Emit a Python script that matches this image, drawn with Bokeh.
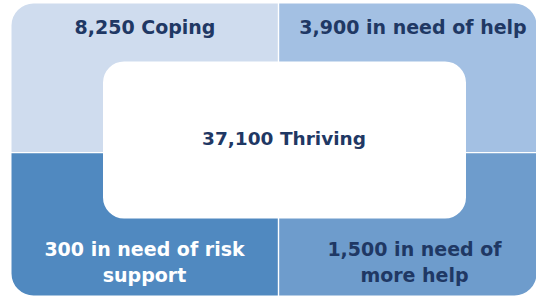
import textwrap
from bokeh.plotting import figure
from bokeh.models import Range1d, ColumnDataSource
from bokeh.core.properties import value
from bokeh.embed import file_html
from bokeh.resources import INLINE

# ---- data ----
groups = ["Coping", "in need of help", "Thriving", "in need of risk support", "in need of more help"]
counts = [8250, 3900, 37100, 300, 1500]

# ---- layout (positions in reference-pixel coordinates, y measured from top) ----
label_cx = [144.5, 412.5, 283.5, 144.0, 414.0]
label_base = [26, 26, 138, 248, 248]
label_wrap = [40, 40, 40, 19, 19]
label_color = ["#1F3864", "#1F3864", "#1F3864", "#FFFFFF", "#1F3864"]
label_size = ["19px", "19px", "18.5px", "19px", "19px"]
line_step = 26

p = figure(width=536, height=296, output_backend="svg", toolbar_location=None,
           x_range=Range1d(0, 536), y_range=Range1d(-296, 0),
           min_border=0, outline_line_color=None,
           background_fill_color="white", border_fill_color="white")
p.axis.visible = False
p.grid.visible = False

R = 22
# quadrants: (left, right, top, bottom, color, radius)
quads = [
    (11, 277.3, 3, 151.6, "#CFDCEE", (R, 0, 0, 0)),
    (278.7, 536, 3, 151.6, "#A3C0E3", (0, R, 0, 0)),
    (11, 277.3, 152.8, 295, "#5089C0", (0, 0, 0, R)),
    (278.7, 536, 152.8, 295, "#6E9CCC", (0, 0, R, 0)),
]
for l, r, t, b, c, rad in quads:
    p.quad(left=[l], right=[r], top=[-t], bottom=[-b], fill_color=c,
           line_color=None, border_radius=rad)

# central white box
p.quad(left=[102.5], right=[465.5], top=[-61], bottom=[-218], fill_color="white",
       line_color=None, border_radius=21)

xs, ys, txt, cols, sizes = [], [], [], [], []
for i in range(len(groups)):
    lines = textwrap.wrap(f"{counts[i]:,} {groups[i]}", label_wrap[i])
    for j, ln in enumerate(lines):
        xs.append(label_cx[i])
        ys.append(-(label_base[i] + j * line_step))
        txt.append(ln)
        cols.append(label_color[i])
        sizes.append(label_size[i])

src = ColumnDataSource(dict(x=xs, y=ys, text=txt, color=cols, size=sizes))
p.text(x="x", y="y", text="text", text_color="color", source=src,
       text_font=value("DejaVu Sans"), text_font_style="bold",
       text_font_size="size", text_align="center", text_baseline="alphabetic")

open("out.html", "w").write(file_html(p, INLINE))
